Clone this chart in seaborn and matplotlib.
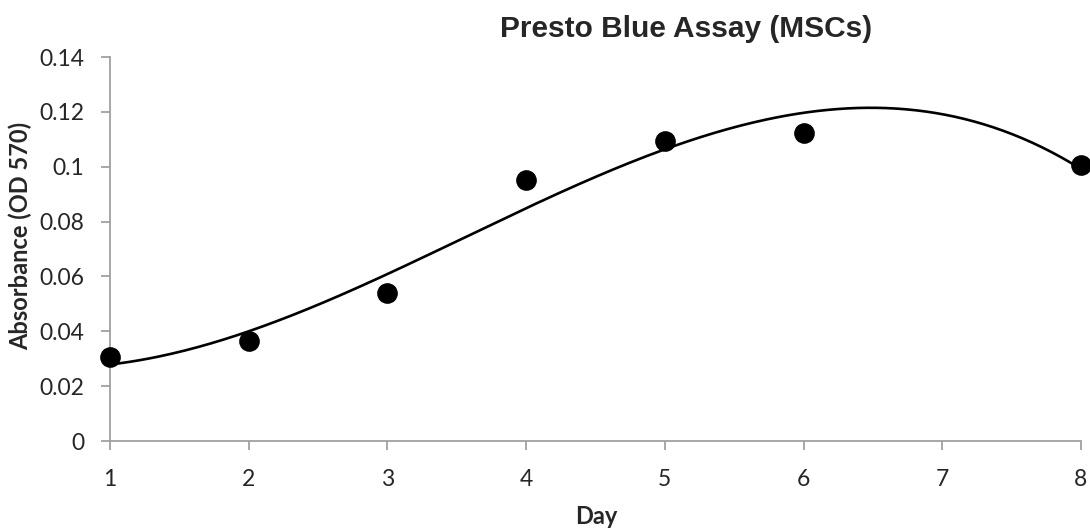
import numpy as np
import pandas as pd
import matplotlib
matplotlib.use('Agg')
import matplotlib.pyplot as plt
import seaborn as sns

# Readings
days = [1, 2, 3, 4, 5, 6, 8]
absorbance = [0.0305, 0.0366, 0.0541, 0.0952, 0.1094, 0.1124, 0.1006]
y_ticks = [0, 0.02, 0.04, 0.06, 0.08, 0.1, 0.12, 0.14]
y_tick_labels = ['0', '0.02', '0.04', '0.06', '0.08', '0.1', '0.12', '0.14']

df = pd.DataFrame({'day': days, 'absorbance': absorbance})

sns.set_style('ticks')
plt.rcParams['font.family'] = ['Lato', 'DejaVu Sans']

fig = plt.figure(figsize=(10.9, 5.31), dpi=100)
ax = fig.add_axes([110 / 1090, 1 - 441 / 531, (1081 - 110) / 1090, (441 - 57) / 531])

# Polynomial trendline (order 3), like the spreadsheet fit
coef = np.polyfit(df['day'], df['absorbance'], 3)
xs = np.linspace(1, 8, 300)
trend = pd.DataFrame({'day': xs, 'fit': np.polyval(coef, xs)})
sns.lineplot(data=trend, x='day', y='fit', ax=ax, color='black', linewidth=1.9)
sns.scatterplot(data=df, x='day', y='absorbance', ax=ax, color='black', s=190,
                edgecolor='black', zorder=3, clip_on=False)

ax.set_xlim(1, 8)
ax.set_ylim(0, 0.14)
ax.set_xticks(range(1, 9))
ax.set_yticks(y_ticks)
ax.set_yticklabels(y_tick_labels)
ax.tick_params(labelsize=16.5, color='#a0a0a0', length=6.5, width=1.3)
ax.tick_params(axis='x', pad=14)
ax.tick_params(axis='y', pad=12)
for side in ['left', 'bottom']:
    ax.spines[side].set_color('#a0a0a0')
    ax.spines[side].set_linewidth(1.3)
sns.despine(ax=ax)

ax.set_xlabel('Day', fontsize=17, fontweight='bold')
ax.set_ylabel('Absorbance (OD 570)', fontsize=17, fontweight='bold')
ax.xaxis.set_label_coords((596 - 110) / 971, -(516 - 441) / 384)
ax.yaxis.set_label_coords(-(110 - 20) / 971, (441 - 236) / 384)
ax.xaxis.label.set_va('center')
ax.yaxis.label.set_va('center')
fig.text(686 / 1090, 1 - 29 / 531, 'Presto Blue Assay (MSCs)', ha='center', va='center',
         fontsize=21.5, fontweight='bold', family=['Liberation Sans', 'DejaVu Sans'])

fig.savefig('out.png', dpi=100)
